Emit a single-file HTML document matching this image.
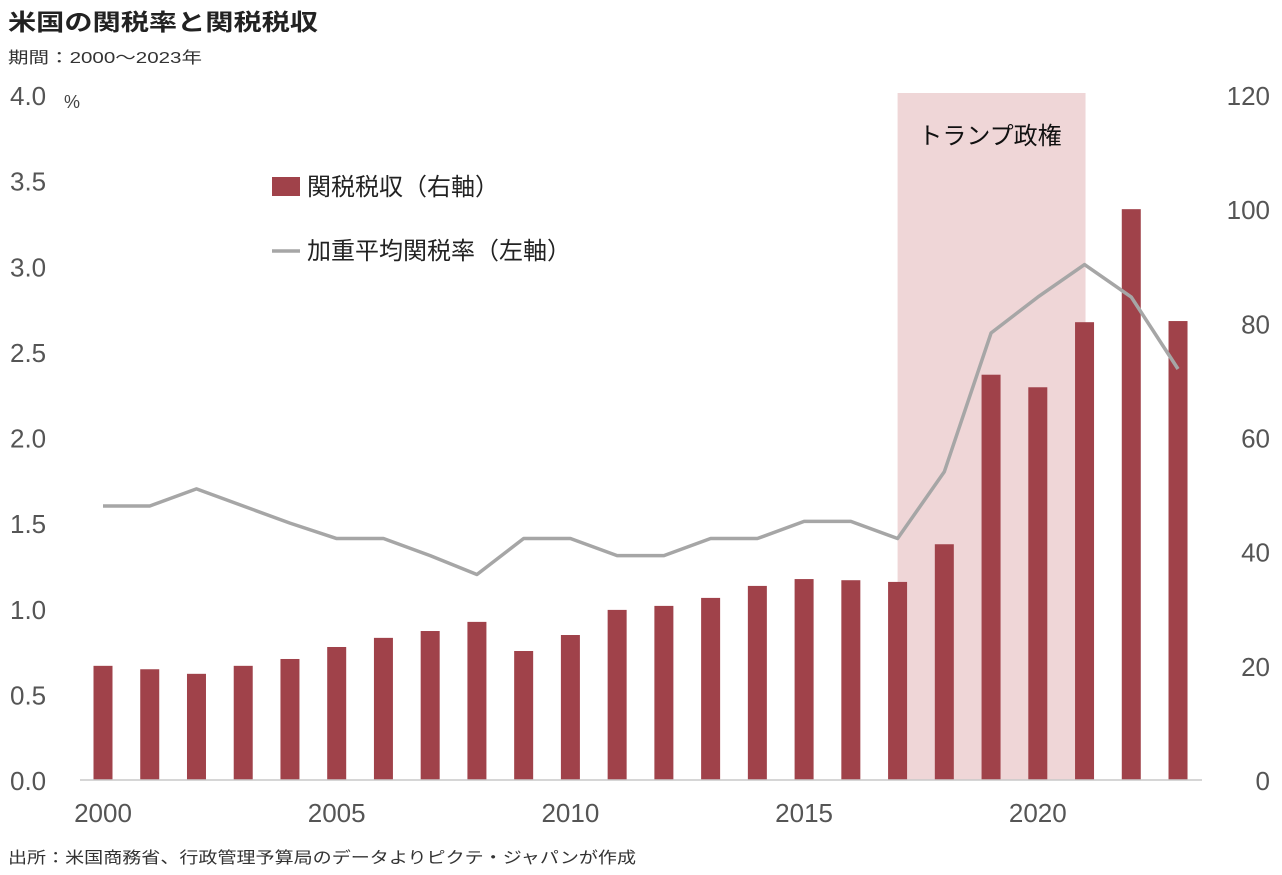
<!DOCTYPE html>
<html><head><meta charset="utf-8"><style>
body{margin:0;background:#fff;width:1282px;height:870px;overflow:hidden;font-family:"Liberation Sans","Noto Sans CJK JP",sans-serif}
svg text{font-family:"Liberation Sans Narrow","Liberation Sans","Noto Sans CJK JP",sans-serif}
</style></head><body>
<svg id="c" width="1282" height="870">
<text x="8" y="30" font-size="23" font-weight="bold" fill="#222" textLength="310" lengthAdjust="spacingAndGlyphs" style="font-family:'Liberation Sans','Noto Sans CJK JP',sans-serif">米国の関税率と関税税収</text>
<text x="8" y="63" font-size="16" fill="#333" textLength="194" lengthAdjust="spacingAndGlyphs" style="font-family:'Liberation Sans','Noto Sans CJK JP',sans-serif">期間：2000～2023年</text>
<text x="8" y="863" font-size="16" fill="#333" textLength="628" lengthAdjust="spacingAndGlyphs" style="font-family:'Liberation Sans','Noto Sans CJK JP',sans-serif">出所：米国商務省、行政管理予算局のデータよりピクテ・ジャパンが作成</text>
<g id="g"></g>
</svg>
<script>
const years=[2000,2001,2002,2003,2004,2005,2006,2007,2008,2009,2010,2011,2012,2013,2014,2015,2016,2017,2018,2019,2020,2021,2022,2023];
const revenue=[20.0,19.4,18.6,20.0,21.2,23.3,24.9,26.1,27.7,22.6,25.4,29.8,30.5,31.9,34.0,35.2,35.0,34.7,41.3,71.0,68.8,80.2,100.0,80.4];
const rate=[1.60,1.60,1.70,1.60,1.50,1.41,1.41,1.31,1.20,1.41,1.41,1.31,1.31,1.41,1.41,1.51,1.51,1.41,1.80,2.61,2.82,3.01,2.82,2.40];
const leftTicks=["0.0","0.5","1.0","1.5","2.0","2.5","3.0","3.5","4.0"];
const rightTicks=["0","20","40","60","80","100","120"];
const xLabels=[2000,2005,2010,2015,2020];
const trump=[2017,2021];
const NS="http://www.w3.org/2000/svg",g=document.getElementById('g');
const y0=780,yTop=95;
const x=v=>103+(v-2000)*46.74;
const yL=v=>y0-(v/4)*(y0-yTop);
const yR=v=>y0-(v/120)*(y0-yTop);
function mk(t,a,txt){const e=document.createElementNS(NS,t);for(const k in a)e.setAttribute(k,a[k]);if(txt!==undefined)e.textContent=txt;g.appendChild(e);return e;}
let e=mk('rect',{x:x(trump[0]),y:93,width:x(trump[1])-x(trump[0])+1,height:y0-93,fill:'#efd6d7'});


e=mk('text',{x:990,y:144,'font-size':24,'text-anchor':'middle',fill:'#111'},'トランプ政権');


leftTicks.forEach(t=>{e=mk('text',{x:10,y:yL(+t)+10,'font-size':26,fill:'#555'},t);

});
e=mk('text',{x:64,y:108,'font-size':18,fill:'#444'},'%');


rightTicks.forEach(t=>{e=mk('text',{x:1270,y:yR(+t)+10,'font-size':26,fill:'#555','text-anchor':'end'},t);

});
xLabels.forEach(t=>{e=mk('text',{x:x(t),y:822,'font-size':26,fill:'#555','text-anchor':'middle'},t);

});
years.forEach((yr,i)=>{e=mk('rect',{x:x(yr)-9.5,y:yR(revenue[i]),width:19,height:y0-yR(revenue[i]),fill:'#a0424a'});

});
e=mk('line',{x1:80,x2:1202,y1:y0,y2:y0,stroke:'#c8c8c8','stroke-width':1.5});


e=mk('polyline',{points:years.map((yr,i)=>x(yr)+','+yL(rate[i])).join(' '),fill:'none',stroke:'#a6a6a6','stroke-width':3.5,'stroke-linejoin':'round'});


e=mk('rect',{x:272,y:177,width:28,height:19,fill:'#a0424a'});


e=mk('text',{x:307,y:195,'font-size':24,fill:'#222'},'関税税収（右軸）');


e=mk('line',{x1:272,x2:300,y1:251,y2:251,stroke:'#a6a6a6','stroke-width':3.5});


e=mk('text',{x:307,y:259,'font-size':24,fill:'#222'},'加重平均関税率（左軸）');


</script>
</body></html>
